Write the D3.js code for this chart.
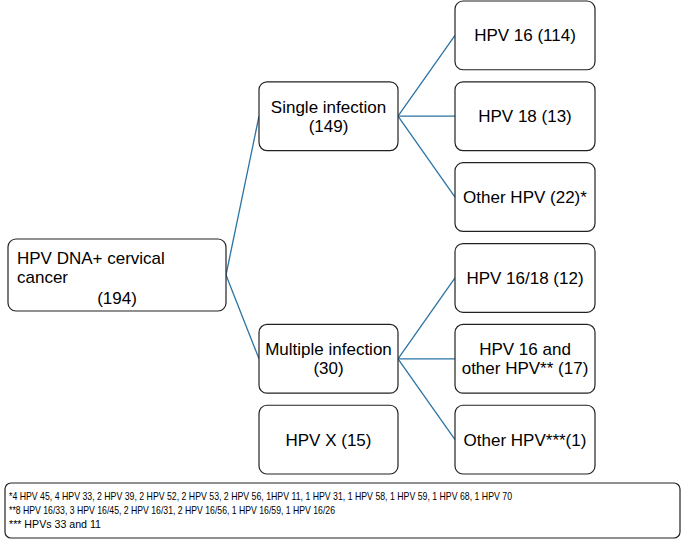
<!DOCTYPE html>
<html><head><meta charset="utf-8">
<script src="https://cdn.jsdelivr.net/npm/d3@7"></script>
<style>body{margin:0;background:#fff}text{font-family:"Liberation Sans",Arial,sans-serif;fill:#000}</style>
</head><body><div id="chart"></div>
<script>
// data
const rootLines = ['HPV DNA+ cervical', 'cancer', '(194)'];
const midNodes = [
  {id: 'single', lines: ['Single infection', '(149)'], row: 1},
  {id: 'multiple', lines: ['Multiple infection', '(30)'], row: 4},
  {id: 'x', lines: ['HPV X (15)'], row: 5}
];
const leafNodes = [
  {lines: ['HPV 16 (114)'], parent: 'single'},
  {lines: ['HPV 18 (13)'], parent: 'single'},
  {lines: ['Other HPV (22)*'], parent: 'single'},
  {lines: ['HPV 16/18 (12)'], parent: 'multiple'},
  {lines: ['HPV 16 and', 'other HPV** (17)'], parent: 'multiple'},
  {lines: ['Other HPV***(1)'], parent: 'multiple'}
];
const footnotes = [
  '*4 HPV 45, 4 HPV 33, 2 HPV 39, 2 HPV 52, 2 HPV 53, 2 HPV 56, 1HPV 11, 1 HPV 31, 1 HPV 58, 1 HPV 59, 1 HPV 68, 1 HPV 70',
  '**8 HPV 16/33, 3 HPV 16/45, 2 HPV 16/31, 2 HPV 16/56, 1 HPV 16/59, 1 HPV 16/26',
  '*** HPVs 33 and 11'
];
const footnoteWidths = [503, 326, 92];

const W = 685, H = 543;
const svg = d3.select('#chart').append('svg').attr('width', W).attr('height', H);

const y = d3.scaleBand().domain(d3.range(6)).range([1, 474]).paddingInner(0.15);
const lineColor = '#2a73a3';
const mid = {x: 259, w: 139}, leaf = {x: 455, w: 140};
const root = {x: 8, y: 239, w: 218, h: 72};
const fs = 17;

function box(x, yy, w, h) {
  svg.append('rect').attr('x', x).attr('y', yy).attr('width', w).attr('height', h)
    .attr('rx', 8).attr('fill', '#fff').attr('stroke', '#222').attr('stroke-width', 1.2);
}
function label(lines, cx, cy) {
  const lh = 19;
  lines.forEach((t, i) => {
    svg.append('text').attr('x', cx).attr('y', cy + (i - (lines.length - 1) / 2) * lh)
      .attr('dy', '0.35em').attr('text-anchor', 'middle').attr('font-size', fs).text(t);
  });
}
const midY = id => {
  const n = midNodes.find(d => d.id === id);
  return y(n.row) + y.bandwidth() / 2;
};

// links
const links = svg.append('g').attr('stroke', lineColor).attr('stroke-width', 1.3);
['single', 'multiple'].forEach(id => {
  links.append('line').attr('x1', root.x + root.w).attr('y1', root.y + root.h / 2)
    .attr('x2', mid.x).attr('y2', midY(id));
});
leafNodes.forEach((d, i) => {
  links.append('line').attr('x1', mid.x + mid.w).attr('y1', midY(d.parent))
    .attr('x2', leaf.x).attr('y2', y(i) + y.bandwidth() / 2);
});

// root
box(root.x, root.y, root.w, root.h);
svg.append('text').attr('x', 17).attr('y', 258).attr('dy', '0.35em').attr('font-size', fs).text(rootLines[0]);
svg.append('text').attr('x', 17).attr('y', 277).attr('dy', '0.35em').attr('font-size', fs).text(rootLines[1]);
svg.append('text').attr('x', 117).attr('y', 298).attr('dy', '0.35em').attr('text-anchor', 'middle').attr('font-size', fs).text(rootLines[2]);

midNodes.forEach(d => {
  box(mid.x, y(d.row), mid.w, y.bandwidth());
  label(d.lines, mid.x + mid.w / 2, y(d.row) + y.bandwidth() / 2);
});
leafNodes.forEach((d, i) => {
  box(leaf.x, y(i), leaf.w, y.bandwidth());
  label(d.lines, leaf.x + leaf.w / 2, y(i) + y.bandwidth() / 2);
});

// footnote
svg.append('rect').attr('x', 5).attr('y', 483).attr('width', 675).attr('height', 55)
  .attr('rx', 6).attr('fill', '#fff').attr('stroke', '#222').attr('stroke-width', 1.2);
footnotes.forEach((t, i) => {
  svg.append('text').attr('x', 9).attr('y', 496 + i * 14).attr('dy', '0.35em')
    .attr('font-size', 11.5).attr('textLength', footnoteWidths[i])
    .attr('lengthAdjust', 'spacingAndGlyphs').text(t);
});
</script></body></html>
